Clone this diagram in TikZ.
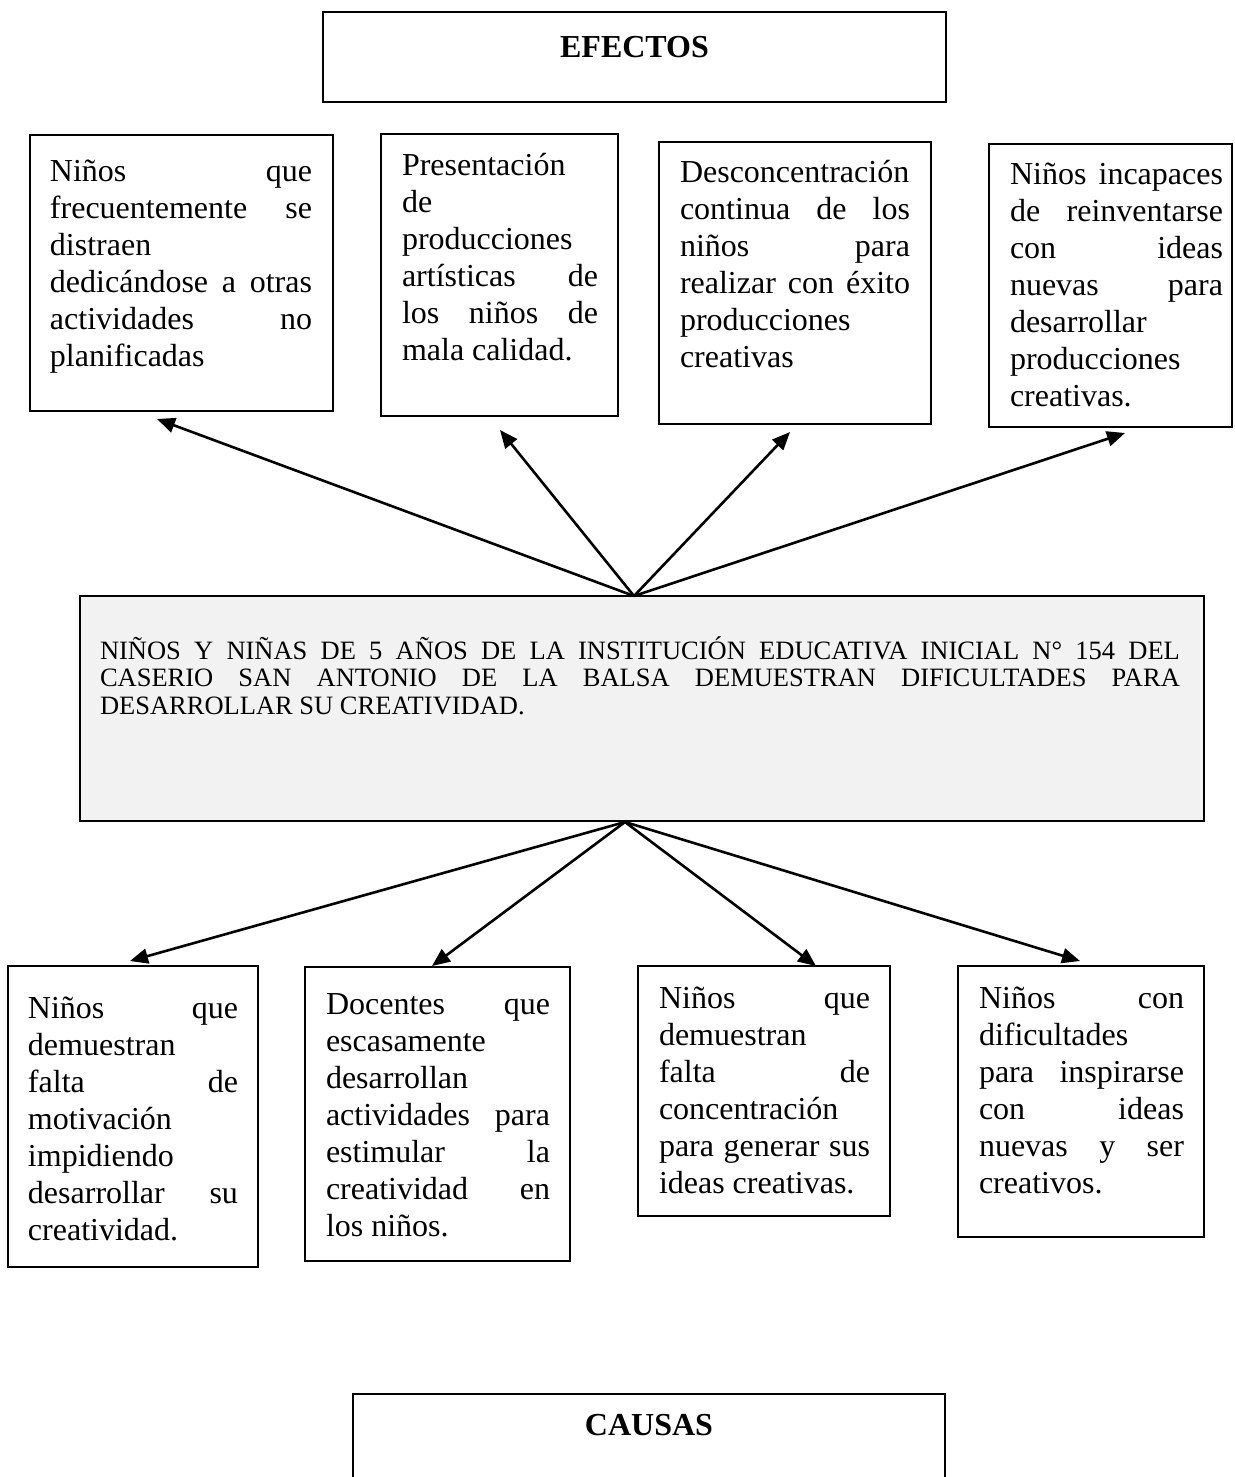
\documentclass[tikz,border=0pt]{standalone}
\usepackage{fontspec}
\setmainfont{Liberation Serif}
\usetikzlibrary{arrows.meta,calc}
\definecolor{boxgray}{HTML}{F2F2F2}
\newcommand\jl[1]{\makebox[\linewidth][s]{#1}}
% #1 box width, #2 box height, #3 left pad, #4 text width, #5 font, #6 first baseline offset, #7 text
\newcommand\bx[7]{\makebox[#1pt][l]{\hspace*{#3pt}\parbox[c][#2pt][t]{#4pt}{#5\rule{0pt}{#6pt}#7}}}
\newcommand\bodyf{\fontsize{32}{37}\selectfont}
\newcommand\cenf{\fontsize{26.5}{27.5}\selectfont}
\newcommand\titf{\fontsize{32}{37}\selectfont\bfseries\centering}
\begin{document}
\begin{tikzpicture}[x=1pt,y=-1pt,
  box/.style={draw=black, line width=1.5pt, inner sep=0pt, outer sep=0pt, anchor=north west},
  conn/.style={line width=2.6pt, -{Triangle[length=18pt,width=15pt]}}]
\useasboundingbox (0,0) rectangle (1234,1477);

% title boxes
\node[box] (efectos) at (323,12) {\bx{623}{90}{0}{623}{\titf}{46}{EFECTOS}};
\node[box] (causas) at (353,1394) {\bx{592}{140}{0}{592}{\titf}{41}{CAUSAS}};

% effects
\node[box] (e1) at (30,135) {\bx{303}{276}{20}{262}{\bodyf}{46}{\jl{Niños que}\\ \jl{frecuentemente se}\\ distraen\\ \jl{dedicándose a otras}\\ \jl{actividades no}\\ planificadas}};
\node[box] (e2) at (381,134) {\bx{237}{282}{21}{196}{\bodyf}{41}{Presentación\\ de\\ producciones\\ \jl{artísticas de}\\ \jl{los niños de}\\ mala calidad.}};
\node[box] (e3) at (659,142) {\bx{272}{282}{21}{230}{\bodyf}{40}{Desconcentración\\ \jl{continua de los}\\ \jl{niños para}\\ \jl{realizar con éxito}\\ producciones\\ creativas}};
\node[box] (e4) at (989,144) {\bx{243}{283}{21}{213}{\bodyf}{40}{\jl{Niños incapaces}\\ \jl{de reinventarse}\\ \jl{con ideas}\\ \jl{nuevas para}\\ desarrollar\\ producciones\\ creativas.}};

% central problem
\node[box, fill=boxgray] (cen) at (80,596) {\bx{1124}{225}{20}{1080}{\cenf}{63}{\jl{NIÑOS Y NIÑAS DE 5 AÑOS DE LA INSTITUCIÓN EDUCATIVA INICIAL N° 154 DEL}\\ \jl{CASERIO SAN ANTONIO DE LA BALSA DEMUESTRAN DIFICULTADES PARA}\\ DESARROLLAR SU CREATIVIDAD.}};

% causes
\node[box] (c1) at (8,966) {\bx{250}{301}{20}{210}{\bodyf}{52}{\jl{Niños que}\\ demuestran\\ \jl{falta de}\\ motivación\\ impidiendo\\ \jl{desarrollar su}\\ creatividad.}};
\node[box] (c2) at (305,967) {\bx{265}{294}{21}{224}{\bodyf}{47}{\jl{Docentes que}\\ escasamente\\ desarrollan\\ \jl{actividades para}\\ \jl{estimular la}\\ \jl{creatividad en}\\ los niños.}};
\node[box] (c3) at (638,966) {\bx{252}{250}{21}{211}{\bodyf}{42}{\jl{Niños que}\\ demuestran\\ \jl{falta de}\\ concentración\\ \jl{para generar sus}\\ ideas creativas.}};
\node[box] (c4) at (958,966) {\bx{246}{271}{21}{205}{\bodyf}{42}{\jl{Niños con}\\ dificultades\\ \jl{para inspirarse}\\ \jl{con ideas}\\ \jl{nuevas y ser}\\ creativos.}};

% connector end points
\coordinate (apexT) at (634,596);
\coordinate (te1) at (157,419);
\coordinate (te2) at (500,430);
\coordinate (te3) at (790,432);
\coordinate (te4) at (1125,433);
\coordinate (apexB) at (625,822);
\coordinate (tc1) at (130,961);
\coordinate (tc2) at (432,966);
\coordinate (tc3) at (816,966);
\coordinate (tc4) at (1080,961);

\draw[conn] (apexT) -- (te1);
\draw[conn] (apexT) -- (te2);
\draw[conn] (apexT) -- (te3);
\draw[conn] (apexT) -- (te4);
\draw[conn] (apexB) -- (tc1);
\draw[conn] (apexB) -- (tc2);
\draw[conn] (apexB) -- (tc3);
\draw[conn] (apexB) -- (tc4);
\end{tikzpicture}
\end{document}
